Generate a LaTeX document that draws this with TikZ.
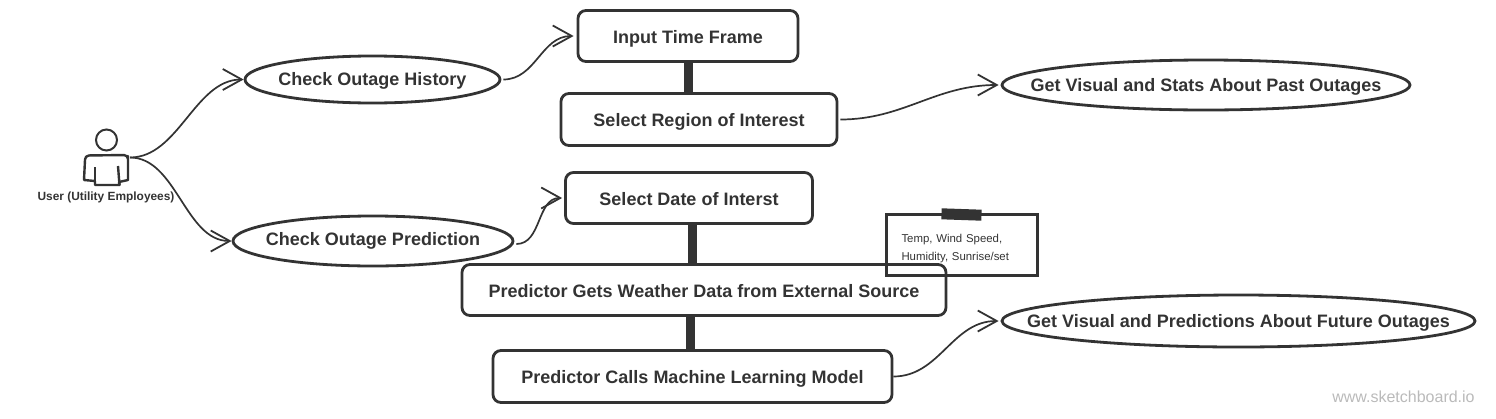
\documentclass[tikz,border=0pt]{standalone}
\usepackage{fontspec}
\setmainfont{Liberation Sans}
\usetikzlibrary{arrows.meta,shapes.geometric}
\definecolor{inkgray}{HTML}{333333}
\tikzset{
  stepbox/.style={draw=inkgray,line width=2.8pt,rounded corners=8pt,inner sep=0pt,text=inkgray,text height=15pt,text depth=1pt,font=\fontsize{18}{22}\selectfont\bfseries},
  usecase/.style={draw=inkgray,line width=2.8pt,ellipse,inner ysep=0pt,text=inkgray,text height=15pt,text depth=1pt,font=\fontsize{18}{22}\selectfont\bfseries},
  flow/.style={draw=inkgray,line width=1.7pt,-{Straight Barb[length=19pt,width=21pt,line width=1.8pt]}},
  link/.style={draw=inkgray,line width=9pt}
}
\begin{document}
\begin{tikzpicture}[x=1pt,y=-1pt]
\useasboundingbox (0,0) rectangle (1496,418);
% actor
\draw [inkgray,line width=2pt] (106.5,140) circle (10.5pt);
\draw [inkgray,line width=2.4pt,line join=round] (95,181) -- (84,180) -- (85,160) [rounded corners=4pt] -- (85,155.5) -- (128,155) -- (128,160) [sharp corners] -- (128,180) -- (119,182) -- (119.5,185) -- (95,185) -- (95,181);
\draw [inkgray,line width=2.4pt] (95,167) -- (95,185);
\draw [inkgray,line width=2.4pt] (118,166) -- (119.5,185);
\node (user) [text=inkgray,font=\fontsize{11.9}{14}\selectfont\bfseries] at (106,197.5) {User (Utility Employees)};
\coordinate (userout) at (130,157.5);
% use cases
\node (history) [usecase,inner xsep=-8pt,minimum width=255pt,minimum height=47pt,text depth=3pt] at (372.5,79.5) {Check Outage History};
\node (prediction) [usecase,inner xsep=-12pt,minimum width=280pt,minimum height=50pt,text depth=7pt] at (373,241) {Check Outage Prediction};
\node (pastvisual) [usecase,inner xsep=-35pt,minimum width=408pt,minimum height=50pt,text depth=2pt] at (1206,85) {Get Visual and Stats About Past Outages};
\node (futurevisual) [usecase,inner xsep=-50pt,minimum width=473pt,minimum height=52pt,text depth=2pt] at (1238.5,321) {Get Visual and Predictions About Future Outages};
% steps
\node (timeframe) [stepbox,minimum width=220pt,minimum height=51pt] at (688,36) {Input Time Frame};
\node (region) [stepbox,minimum width=276pt,minimum height=52pt] at (699,119.5) {Select Region of Interest};
\node (datebox) [stepbox,minimum width=247pt,minimum height=51pt] at (689,198) {Select Date of Interst};
\node (weather) [stepbox,minimum width=484pt,minimum height=51pt] at (704,290) {Predictor Gets Weather Data from External Source};
\node (model) [stepbox,minimum width=399pt,minimum height=52pt] at (692.5,376.5) {Predictor Calls Machine Learning Model};
% note
\node (note) [draw=inkgray,line width=2.8pt,minimum width=151pt,minimum height=61pt,align=left,text width=121pt,text height=15pt,text=inkgray,font=\fontsize{11.4}{18}\selectfont] at (962,245) {Temp, Wind Speed,\\Humidity, Sunrise/set};
\node (tape) [fill=inkgray,minimum width=40pt,minimum height=11pt,inner sep=0pt,rotate=-2] at (961.5,214.5) {};
\node (mark) [text=black!27,font=\fontsize{16}{19}\selectfont] at (1403.5,397) {www.sketchboard.io};
% thick links
\draw [link] (timeframe.south) -- (timeframe.south |- region.north);
\draw [link] ([xshift=3pt]datebox.south) -- ([xshift=3pt]datebox.south |- weather.north);
\draw [link] ([xshift=1pt]model.north -| datebox.south) -- ([xshift=1pt]weather.south -| datebox.south);
% curves
\draw [flow] (userout) to [out=0,in=180,looseness=0.9] (history.west);
\draw [flow] (userout) to [out=0,in=180,looseness=0.9] (prediction.west);
\draw [flow] ([xshift=2pt]history.east) to [out=0,in=180] ([xshift=-3pt]timeframe.west);
\draw [flow] ([xshift=2pt,yshift=-3pt]prediction.east) to [out=0,in=180] ([xshift=-2pt]datebox.west);
\draw [flow] ([xshift=2pt]region.east) to [out=0,in=180] ([xshift=-2pt]pastvisual.west);
\draw [flow] (model.east) to [out=0,in=180] ([xshift=-2pt]futurevisual.west);
\end{tikzpicture}
\end{document}
